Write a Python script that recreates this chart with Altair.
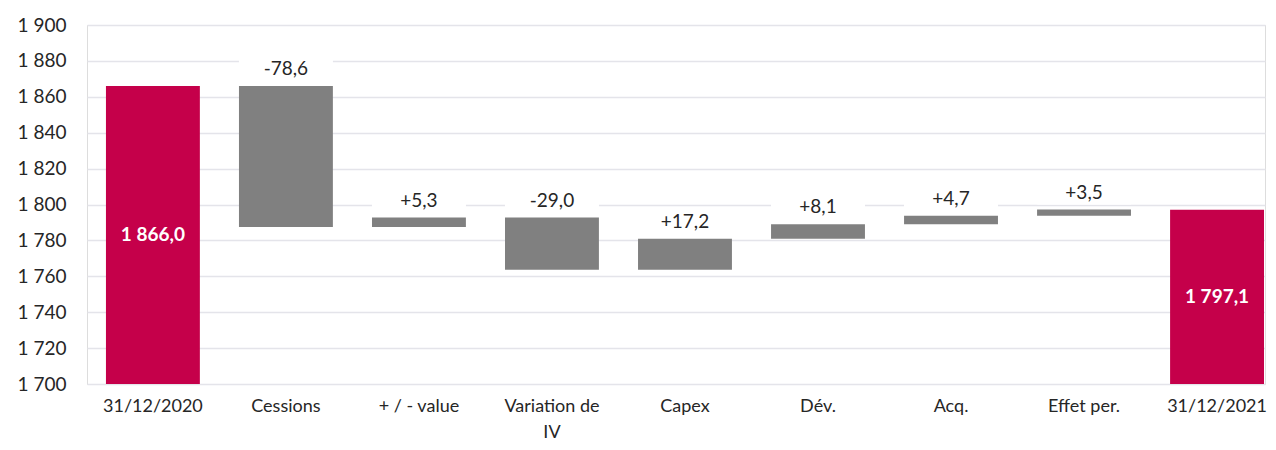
import altair as alt
import pandas as pd

categories = ["31/12/2020", "Cessions", "+ / - value", "Variation de IV", "Capex",
              "Dév.", "Acq.", "Effet per.", "31/12/2021"]
start_total = 1866.0
deltas = [-78.6, 5.3, -29.0, 17.2, 8.1, 4.7, 3.5]
end_total = 1797.1
base = 1700
y_ticks = [1700, 1720, 1740, 1760, 1780, 1800, 1820, 1840, 1860, 1880, 1900]

def fr(v, sign=False):
    s = f"{abs(v):,.1f}".replace(",", " ").replace(".", ",")
    if sign:
        return ("+" if v >= 0 else "-") + s
    return s

rows = [dict(cat=categories[0], y=base, y2=start_total, kind="total",
             label=fr(start_total), top=start_total, mid=(base + start_total) / 2)]
run = start_total
for c, d in zip(categories[1:-1], deltas):
    nxt = run + d
    rows.append(dict(cat=c, y=min(run, nxt), y2=max(run, nxt), kind="delta",
                     label=fr(d, True), top=max(run, nxt), mid=(run + nxt) / 2))
    run = nxt
rows.append(dict(cat=categories[-1], y=base, y2=end_total, kind="total",
                 label=fr(end_total), top=end_total, mid=(base + end_total) / 2))
df = pd.DataFrame(rows)

FONT = "Lato"
FS = 19
xscale = alt.Scale(domain=categories, paddingInner=0.294, paddingOuter=0.075, align=0.95)
yscale = alt.Scale(domain=[1700, 1900], nice=False, zero=False)

xaxis = alt.Axis(labelAngle=0, domain=False, ticks=False, labelPadding=13, bandPosition=0.5,
                 labelFontSize=18, labelColor="#262626", labelFont=FONT, labelAlign="center",
                 labelLineHeight=26, labelBaseline="top", grid=False,
                 labelExpr="datum.label == 'Variation de IV' ? ['Variation de', 'IV'] : datum.label")
yaxis = alt.Axis(values=y_ticks, domain=False, ticks=False, labelOverlap=False,
                 labelPadding=21, labelFontSize=FS, labelColor="#262626",
                 labelFont=FONT, gridColor="#E4E4EA", gridWidth=1.5,
                 labelExpr="replace(format(datum.value, ','), ',', ' ')")

def X():
    return alt.X("cat:N", scale=xscale, sort=categories, title=None, axis=xaxis)

def Y(field):
    return alt.Y(field, scale=yscale, title=None, axis=yaxis)

basech = alt.Chart(df)

bars = basech.mark_bar().encode(
    x=X(),
    y=Y("y:Q"),
    y2="y2:Q",
    color=alt.Color("kind:N", scale=alt.Scale(domain=["total", "delta"],
                                              range=["#C5004A", "#808080"]), legend=None),
)

deltas_df = basech.transform_filter("datum.kind == 'delta'")
boxes = deltas_df.mark_tick(color="white", size=94, thickness=24, yOffset=-17, opacity=1).encode(
    x=X(),
    y=Y("top:Q"),
)
dlabels = deltas_df.mark_text(fontSize=FS, font=FONT, color="#262626", yOffset=-17,
                              baseline="middle").encode(
    x=X(),
    y=Y("top:Q"),
    text="label:N",
)
tlabels = basech.transform_filter("datum.kind == 'total'").mark_text(
    fontSize=FS, font=FONT, fontWeight="bold", color="white", baseline="middle").encode(
    x=X(),
    y=Y("mid:Q"),
    text="label:N",
)

chart = alt.layer(boxes, bars, dlabels, tlabels).properties(
    width=1178, height=359,
    autosize=alt.AutoSizeParams(type="none"),
    padding={"left": 79, "top": 17, "right": 3, "bottom": 60},
).configure_view(stroke=None).configure(background="white")

chart.save("out.html", embed_options={"renderer": "svg", "actions": False})
